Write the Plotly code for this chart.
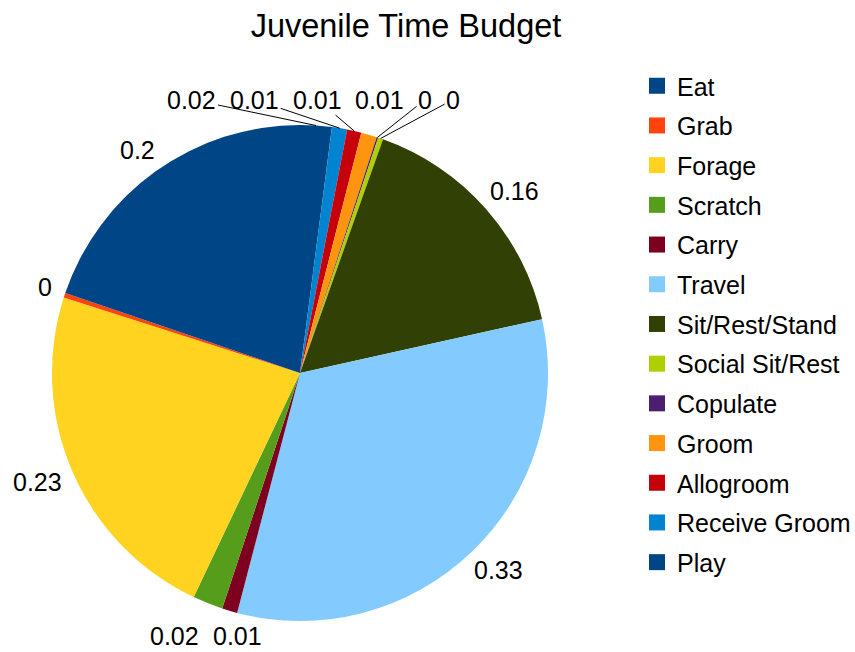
import math
import plotly.graph_objects as go

categories = ["Eat", "Grab", "Forage", "Scratch", "Carry", "Travel", "Sit/Rest/Stand",
              "Social Sit/Rest", "Copulate", "Groom", "Allogroom", "Receive Groom", "Play"]
values = [0.198, 0.003, 0.229, 0.0197, 0.010, 0.326, 0.161,
          0.0033, 0.001, 0.0103, 0.0093, 0.0099, 0.0206]
colors = ["#004586", "#ff420e", "#ffd320", "#579d1c", "#7e0021", "#83caff", "#314004",
          "#aecf00", "#4b1f6f", "#ff950e", "#c5000b", "#0084d1", "#004586"]
title_text = "Juvenile Time Budget"

FONT = "Liberation Sans, Arial, sans-serif"
FS = 25
labels_text = [f"{round(v, 2):g}" for v in values]

# plot-area geometry (pie fills the square domain)
W, H = 855, 652
L, T, S = 52, 125, 496
cx, cy, r = L + S / 2, T + S / 2, S / 2
GAP_R, HH, GAP_X, LINE_MIN, TOP_SHIFT = 14, 12, 14, 35, -26


def text_halfwidth(s):
    return sum(0.278 if ch == "." else 0.556 for ch in s) * FS / 2


def to_paper(px, py):
    return (px - L) / S, 1 - (py - T) / S


# natural label positions (slices run counterclockwise from 12 o'clock)
total = sum(values)
labs = []
start = 0.0
for v, t in zip(values, labels_text):
    th = 2 * math.pi * (start + v / 2) / total
    start += v
    dx, dy = -math.sin(th), -math.cos(th)
    hw = text_halfwidth(t)
    nx = cx + (r + GAP_R) * dx + hw * dx
    ny = cy + (r + GAP_R) * dy + HH * dy
    labs.append(dict(t=t, hw=hw, nx=nx, ny=ny, x=nx, y=ny, dy=dy,
                     hx=cx + r * dx, hy=cy + r * dy))

# group overlapping labels and spread them horizontally
n = len(labs)
parent = list(range(n))


def find(i):
    while parent[i] != i:
        i = parent[i]
    return i


for i in range(n):
    for j in range(i + 1, n):
        a, b = labs[i], labs[j]
        if (abs(a["nx"] - b["nx"]) < a["hw"] + b["hw"] + 4 and abs(a["ny"] - b["ny"]) < 2 * HH + 4):
            parent[find(i)] = find(j)
clusters = {}
for i in range(n):
    clusters.setdefault(find(i), []).append(i)
for members in clusters.values():
    if len(members) < 2:
        continue
    members.sort(key=lambda k: labs[k]["nx"])
    pos = [0.0]
    for a, b in zip(members[:-1], members[1:]):
        pos.append(pos[-1] + labs[a]["hw"] + labs[b]["hw"] + GAP_X)
    shift = sum(labs[k]["nx"] for k in members) / len(members) - sum(pos) / len(pos)
    top = sum(labs[k]["dy"] for k in members) < 0
    if top:
        shift += TOP_SHIFT
    yrow = (min if top else max)(labs[k]["ny"] for k in members)
    for k, p in zip(members, pos):
        labs[k]["x"] = p + shift
        labs[k]["y"] = yrow

annotations = []
for lb in labs:
    if abs(lb["x"] - lb["nx"]) > LINE_MIN:
        hx, hy = to_paper(lb["hx"], lb["hy"])
        annotations.append(dict(
            x=hx, y=hy, xref="paper", yref="paper", text=lb["t"], showarrow=True,
            ax=lb["x"] - lb["hx"], ay=lb["y"] - lb["hy"], axref="pixel", ayref="pixel",
            arrowhead=0, arrowwidth=1, arrowcolor="#000000", standoff=0, startstandoff=0,
            font=dict(family=FONT, size=FS, color="#000000")))
    else:
        px, py = to_paper(lb["x"], lb["y"])
        annotations.append(dict(
            x=px, y=py, xref="paper", yref="paper", text=lb["t"], showarrow=False,
            xanchor="center", yanchor="middle",
            font=dict(family=FONT, size=FS, color="#000000")))

fig = go.Figure()
# drawn clockwise with the order reversed = counterclockwise in legend order
fig.add_trace(go.Pie(
    labels=categories[::-1], values=values[::-1],
    textinfo="none",
    marker=dict(colors=colors[::-1], line=dict(width=0)),
    sort=False, direction="clockwise", rotation=0,
    showlegend=False, hoverinfo="label+value",
))
for name, col in zip(categories, colors):
    fig.add_trace(go.Scatter(
        x=[None], y=[None], mode="markers", name=name, legendgroup=name,
        marker=dict(symbol="square", size=16, color=col, line=dict(width=0)),
    ))

fig.update_layout(
    width=W, height=H,
    margin=dict(l=L, r=W - L - S, t=T, b=H - T - S, autoexpand=False),
    paper_bgcolor="white", plot_bgcolor="white",
    title=dict(text=title_text, x=406 / W, xanchor="center", xref="container",
               y=1 - 26 / H, yanchor="middle", yref="container",
               font=dict(family=FONT, size=32.5, color="#000000")),
    xaxis=dict(visible=False), yaxis=dict(visible=False),
    annotations=annotations,
    legend=dict(x=(637 - L) / S, xanchor="left", y=1 + (T - 63) / S, yanchor="top",
                font=dict(family=FONT, size=FS, color="#000000"),
                tracegroupgap=4.2, maxheight=620,
                itemclick=False, itemdoubleclick=False),
    showlegend=True,
)
fig.write_html("out.html")
